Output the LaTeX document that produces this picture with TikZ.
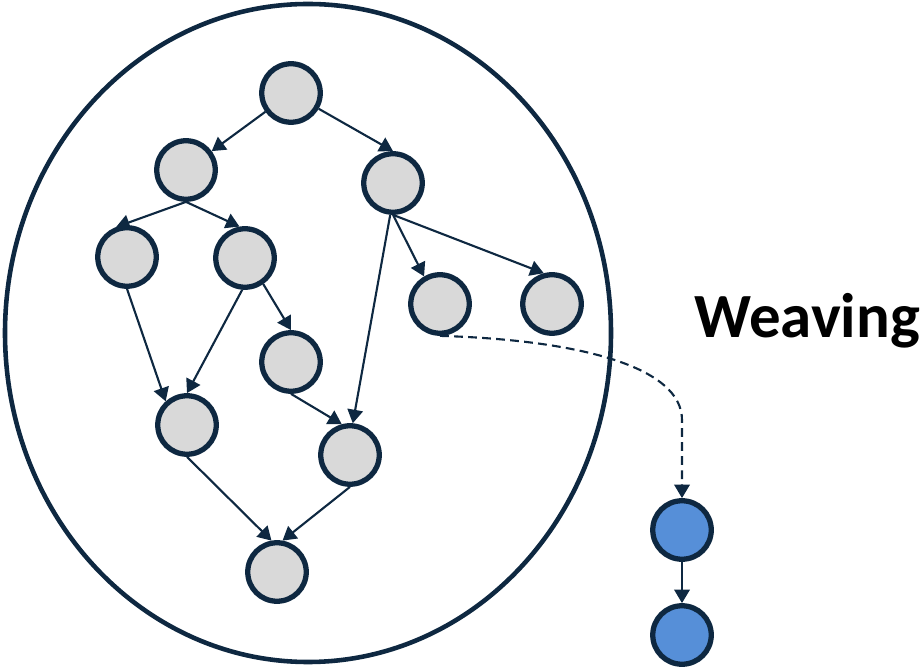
\documentclass[tikz,border=0pt]{standalone}
\usepackage{fontspec}
\newfontfamily\labelfont{Carlito}
\usetikzlibrary{arrows.meta}
\definecolor{navy}{HTML}{0E2841}
\definecolor{lightgray}{HTML}{D9D9D9}
\definecolor{lightblue}{HTML}{568FD8}
\begin{document}
\begin{tikzpicture}[
    vertex/.style={circle,draw=navy,line width=3pt,fill=lightgray,minimum size=1.17cm,inner sep=0pt},
    picked/.style={vertex,fill=lightblue},
    edge/.style={navy,line width=1.2pt,-{Triangle[length=0.27cm,width=0.31cm]}}
  ]
  \useasboundingbox (0,0) rectangle (18.4,13.34);
  \draw [navy,line width=2.6pt] (6.16,6.68) ellipse [x radius=6.06cm, y radius=6.58cm];
  % the graph
  \node [vertex] (root) at (5.82,11.48) {};
  \node [vertex] (a) at (3.72,9.94) {};
  \node [vertex] (b) at (7.86,9.68) {};
  \node [vertex] (aa) at (2.54,8.20) {};
  \node [vertex] (ab) at (4.90,8.18) {};
  \node [vertex] (ba) at (8.80,7.26) {};
  \node [vertex] (bb) at (11.04,7.26) {};
  \node [vertex] (m1) at (5.82,6.10) {};
  \node [vertex] (m2) at (3.74,4.84) {};
  \node [vertex] (m3) at (7.00,4.24) {};
  \node [vertex] (sink) at (5.54,1.90) {};
  \draw [edge] (root) -- (a);
  \draw [edge] (root) -- (b.north);
  \draw [edge] (a.south) -- (aa.110);
  \draw [edge] (a.south) -- (ab.100);
  \draw [edge] (b.south) -- (ba.120);
  \draw [edge] (b.south) -- (bb.105);
  \draw [edge] (b.265) -- (m3.85);
  \draw [edge] (aa.south) -- (m2.132);
  \draw [edge] (ab.265) -- (m2.north);
  \draw [edge] (ab.305) -- (m1.north);
  \draw [edge] (m1.south) -- (m3.105);
  \draw [edge] (m2.south) -- (sink.100);
  \draw [edge] (m3.south) -- (sink.80);
  % woven path
  \node [picked] (w1) at (13.64,2.74) {};
  \node [picked] (w2) at (13.64,0.64) {};
  \coordinate (bend) at (13.64,4.94);
  \draw [edge,dash pattern=on 5pt off 3pt] (ba.south) .. controls (11.6,6.54) and (13.64,6.0) .. (bend) -- (w1);
  \draw [edge] (w1) -- (w2);
  \node [anchor=base west,inner sep=0pt,font=\labelfont\bfseries\fontsize{35.8}{42}\selectfont] (weave) at (13.88,6.58) {Weaving};
\end{tikzpicture}
\end{document}
